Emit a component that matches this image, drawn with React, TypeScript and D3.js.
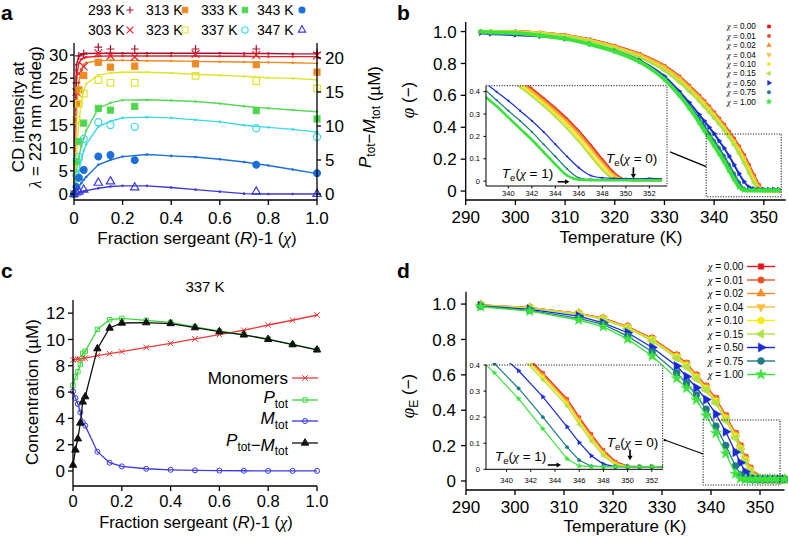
import React from 'react'
import * as d3 from 'd3'

const SANS = '"Liberation Sans", Arial, Helvetica, sans-serif'
const SERIF = '"Liberation Serif", "Times New Roman", serif'

// ---------- panel a: CD intensity (markers, left axis) and Ptot-Mtot model (lines, right axis) ----------
const CHI_FIT = [0, 0.01, 0.02, 0.03, 0.04, 0.05, 0.1, 0.15, 0.2, 0.3, 0.4, 0.5, 0.6, 0.7, 0.8, 0.9, 1.0]
const CHI_CD = [0, 0.01, 0.02, 0.04, 0.1, 0.15, 0.25, 0.5, 0.75, 1.0]
const TEMPS_A = ['293 K', '303 K', '313 K', '323 K', '333 K', '337 K', '343 K', '347 K']

const FIT_293 = [0, 19.0, 20.3, 20.5, 20.6, 20.65, 20.7, 20.7, 20.7, 20.7, 20.7, 20.7, 20.7, 20.65, 20.65, 20.6, 20.6]
const FIT_303 = [0, 17.0, 19.3, 19.8, 20.0, 20.1, 20.25, 20.3, 20.3, 20.3, 20.3, 20.3, 20.25, 20.25, 20.2, 20.2, 20.2]
const FIT_313 = [0, 12.0, 16.5, 18.3, 19.0, 19.3, 19.6, 19.65, 19.65, 19.6, 19.55, 19.5, 19.45, 19.4, 19.35, 19.3, 19.2]
const FIT_323 = [0, 6.0, 10.5, 13.5, 15.2, 16.2, 17.5, 17.8, 17.9, 17.9, 17.8, 17.6, 17.45, 17.3, 17.1, 17.0, 16.8]
const FIT_333 = [0, 3.5, 5.5, 7.0, 8.2, 9.3, 12.6, 13.4, 13.8, 13.85, 13.75, 13.6, 13.3, 12.9, 12.6, 12.35, 12.1]
const FIT_337 = [0, 1.5, 3.4, 5.0, 6.4, 7.3, 9.9, 10.7, 11.2, 11.3, 11.2, 10.9, 10.6, 10.1, 9.8, 9.5, 9.1]
const FIT_343 = [0, 0.5, 1.1, 1.6, 2.1, 2.5, 4.3, 5.0, 5.5, 5.8, 5.6, 5.45, 5.1, 4.7, 4.2, 3.6, 3.0]
const FIT_347 = [0, 0.1, 0.2, 0.3, 0.4, 0.5, 0.85, 1.1, 1.2, 1.2, 0.95, 0.65, 0.35, 0.05, 0, 0, 0]

const CD_293 = [0, 24.0, 29.8, 30.3, 31.7, 31.3, 31.3, 31.3, 31.3, 30.5]
const CD_303 = [0, 22.0, 26.0, 27.5, 30.4, 29.8, 29.6, 30.2, 30.0, 29.9]
const CD_313 = [0, 19.5, 22.5, 25.6, 28.4, 27.4, 27.6, 28.1, 27.9, 26.3]
const CD_323 = [0, 16.0, 19.5, 21.7, 24.6, 24.0, 24.0, 25.5, 24.4, 22.8]
const CD_333 = [0, 7.0, 11.3, 15.3, 18.5, 18.1, 18.9, null, 18.0, 16.2]
const CD_337 = [0, 4.0, 8.0, 11.9, 15.5, 14.9, 14.5, null, 14.2, 12.3]
const CD_343 = [0, 1.5, 3.5, 5.2, 8.1, 8.4, 7.3, null, 6.3, 4.5]
const CD_347 = [0, 0.3, 0.5, 0.9, 2.4, 2.7, 1.4, null, 0.5, 0]

// ---------- panel b: measured phi vs temperature ----------
const T_B = [293, 295, 300, 305, 310, 315, 320, 325, 330, 333, 335, 337, 338, 339, 340, 341, 342, 343, 344, 345, 346, 347, 348, 349, 350, 351, 352, 353]
const B_000 = [1.0, 1.0, 1.0, 0.992, 0.977, 0.95, 0.91, 0.86, 0.785, 0.718, 0.66, 0.598, 0.565, 0.53, 0.493, 0.455, 0.415, 0.372, 0.328, 0.28, 0.225, 0.163, 0.098, 0.038, 0.006, 0.003, 0.003, 0.002]
const B_001 = [1.0, 1.0, 1.0, 0.992, 0.976, 0.949, 0.909, 0.858, 0.783, 0.715, 0.657, 0.595, 0.562, 0.527, 0.49, 0.452, 0.411, 0.368, 0.324, 0.276, 0.221, 0.159, 0.094, 0.035, 0.006, 0.003, 0.003, 0.002]
const B_002 = [1.0, 1.0, 1.0, 0.991, 0.976, 0.948, 0.907, 0.856, 0.78, 0.712, 0.653, 0.591, 0.558, 0.523, 0.485, 0.447, 0.406, 0.363, 0.318, 0.27, 0.215, 0.152, 0.087, 0.03, 0.005, 0.003, 0.003, 0.002]
const B_004 = [1.0, 1.0, 0.999, 0.99, 0.975, 0.946, 0.904, 0.852, 0.776, 0.707, 0.648, 0.585, 0.552, 0.517, 0.479, 0.44, 0.399, 0.356, 0.31, 0.262, 0.206, 0.143, 0.079, 0.024, 0.005, 0.003, 0.003, 0.002]
const B_010 = [1.0, 1.0, 0.998, 0.99, 0.972, 0.942, 0.898, 0.842, 0.76, 0.688, 0.632, 0.57, 0.537, 0.503, 0.467, 0.43, 0.39, 0.347, 0.3, 0.248, 0.19, 0.125, 0.062, 0.015, 0.004, 0.003, 0.003, 0.002]
const B_015 = [1.0, 1.0, 0.997, 0.988, 0.97, 0.94, 0.895, 0.838, 0.755, 0.682, 0.625, 0.562, 0.528, 0.494, 0.457, 0.42, 0.38, 0.336, 0.288, 0.235, 0.176, 0.112, 0.05, 0.01, 0.004, 0.003, 0.003, 0.002]
const B_050 = [0.99, 0.985, 0.978, 0.97, 0.953, 0.922, 0.88, 0.82, 0.72, 0.625, 0.555, 0.48, 0.44, 0.4, 0.36, 0.315, 0.27, 0.22, 0.165, 0.11, 0.06, 0.025, 0.015, 0.012, 0.011, 0.01, 0.012, 0.01]
const B_075 = [1.0, 0.995, 0.988, 0.975, 0.955, 0.92, 0.876, 0.812, 0.705, 0.61, 0.535, 0.455, 0.41, 0.362, 0.315, 0.27, 0.22, 0.165, 0.11, 0.055, 0.015, 0.008, 0.008, 0.008, 0.008, 0.008, 0.008, 0.008]
const B_100 = [1.0, 0.995, 0.99, 0.975, 0.955, 0.92, 0.875, 0.81, 0.7, 0.6, 0.52, 0.43, 0.38, 0.335, 0.285, 0.235, 0.185, 0.13, 0.075, 0.025, 0.006, 0.004, 0.004, 0.004, 0.004, 0.004, 0.004, 0.004]

// ---------- panel c: model concentrations at 337 K ----------
const C_MONO = [8.45, 8.48, 8.5, 8.52, 8.55, 8.58, 8.77, 8.92, 9.07, 9.4, 9.7, 10.04, 10.37, 10.7, 11.1, 11.46, 11.86]
const C_PTOT = [6.5, 7.15, 7.55, 8.1, 8.95, 9.1, 10.77, 11.5, 11.6, 11.45, 11.3, 10.95, 10.63, 10.37, 10.02, 9.62, 9.22]
const C_MTOT = [6.05, 5.55, 5.1, 4.45, 3.7, 3.45, 1.47, 0.63, 0.35, 0.17, 0.09, 0.05, 0.03, 0.02, 0.01, 0.01, 0.01]
const C_DIFF = [0.45, 1.6, 2.45, 3.65, 5.25, 5.65, 9.3, 10.87, 11.25, 11.28, 11.21, 10.9, 10.6, 10.35, 10.01, 9.61, 9.21]

// ---------- panel d: model phi_E vs temperature ----------
const T_D = [293, 303, 313, 318, 323, 328, 333, 335, 337, 339, 341, 343, 345, 346, 347, 348, 349, 350, 351, 352, 353, 354, 355]
const D_000 = [0.995, 0.98, 0.948, 0.92, 0.873, 0.806, 0.712, 0.665, 0.6, 0.537, 0.467, 0.37, 0.27, 0.2, 0.135, 0.074, 0.03, 0.012, 0.01, 0.01, 0.01, 0.01, 0.01]
const D_001 = [0.995, 0.98, 0.947, 0.919, 0.872, 0.805, 0.71, 0.663, 0.598, 0.535, 0.464, 0.367, 0.267, 0.197, 0.132, 0.071, 0.028, 0.011, 0.01, 0.01, 0.01, 0.01, 0.01]
const D_002 = [0.995, 0.979, 0.947, 0.918, 0.871, 0.803, 0.708, 0.66, 0.595, 0.532, 0.46, 0.363, 0.263, 0.193, 0.128, 0.068, 0.026, 0.011, 0.01, 0.01, 0.01, 0.01, 0.01]
const D_004 = [0.995, 0.979, 0.946, 0.917, 0.869, 0.8, 0.704, 0.656, 0.59, 0.527, 0.455, 0.358, 0.258, 0.188, 0.123, 0.064, 0.023, 0.01, 0.01, 0.01, 0.01, 0.01, 0.01]
const D_010 = [0.994, 0.978, 0.945, 0.915, 0.866, 0.797, 0.7, 0.651, 0.585, 0.521, 0.449, 0.352, 0.251, 0.181, 0.116, 0.058, 0.02, 0.01, 0.01, 0.01, 0.01, 0.01, 0.01]
const D_015 = [0.994, 0.977, 0.943, 0.912, 0.862, 0.792, 0.694, 0.644, 0.577, 0.513, 0.44, 0.343, 0.242, 0.172, 0.108, 0.052, 0.016, 0.01, 0.01, 0.01, 0.01, 0.01, 0.01]
const D_050 = [0.99, 0.97, 0.932, 0.894, 0.838, 0.755, 0.65, 0.59, 0.527, 0.46, 0.378, 0.278, 0.163, 0.103, 0.052, 0.02, 0.01, 0.01, 0.01, 0.01, 0.01, 0.01, 0.01]
const D_075 = [0.988, 0.965, 0.919, 0.885, 0.819, 0.731, 0.612, 0.552, 0.486, 0.405, 0.31, 0.2, 0.085, 0.035, 0.012, 0.01, 0.01, 0.01, 0.01, 0.01, 0.01, 0.01, 0.01]
const D_100 = [0.985, 0.96, 0.91, 0.872, 0.802, 0.706, 0.58, 0.524, 0.458, 0.37, 0.27, 0.155, 0.04, 0.013, 0.01, 0.01, 0.01, 0.01, 0.01, 0.01, 0.01, 0.01, 0.01]

const CHI_LEGEND = ['0.00', '0.01', '0.02', '0.04', '0.10', '0.15', '0.50', '0.75', '1.00']
const CHI_COLORS = ['#e8141c', '#e4502a', '#f28a2a', '#f8be3c', '#f4ec14', '#b0e04a', '#1a2ad8', '#1e7c82', '#3ce23c']
const CHI_MARKS = ['square', 'circle', 'triangle', 'triDown', 'circle', 'triLeft', 'triRight', 'circle', 'star']
const B_SERIES = [B_000, B_001, B_002, B_004, B_010, B_015, B_050, B_075, B_100]
const D_SERIES = [D_000, D_001, D_002, D_004, D_010, D_015, D_050, D_075, D_100]

const A_FIT = [FIT_293, FIT_303, FIT_313, FIT_323, FIT_333, FIT_337, FIT_343, FIT_347]
const A_CD = [CD_293, CD_303, CD_313, CD_323, CD_333, CD_337, CD_343, CD_347]
const A_STYLE = [
  { line: '#a8122e', kind: 'plus', fill: 'none', size: 22 },
  { line: '#e8202a', kind: 'times', fill: 'none', size: 40 },
  { line: '#f08a22', kind: 'square', fill: '#f08a22', size: 36 },
  { line: '#dfe42a', kind: 'square', fill: 'none', size: 44 },
  { line: '#58d858', kind: 'square', fill: '#4cd64c', size: 36 },
  { line: '#38d8e8', kind: 'circle', fill: 'none', size: 40 },
  { line: '#1c6fd8', kind: 'circle', fill: '#1c6fd8', size: 36 },
  { line: '#3a3ad8', kind: 'triangle', fill: 'none', size: 30 },
]

const SYM: Record<string, any> = {
  plus: (d3 as any).symbolPlus ?? d3.symbolCross,
  times: (d3 as any).symbolTimes ?? d3.symbolCross,
  square: d3.symbolSquare,
  circle: d3.symbolCircle,
  triangle: d3.symbolTriangle,
  triDown: d3.symbolTriangle,
  triLeft: d3.symbolTriangle,
  triRight: d3.symbolTriangle,
  star: d3.symbolStar,
}
const ROT: Record<string, number> = { triDown: 180, triLeft: -90, triRight: 90 }

function Mark({ x, y, kind, size, color, fill, sw = 1 }: any) {
  const d = d3.symbol(SYM[kind], size)() ?? ''
  const r = ROT[kind] ?? 0
  const f = fill ?? color
  return (
    <path
      d={d}
      transform={`translate(${x},${y})${r ? ` rotate(${r})` : ''}`}
      fill={f}
      stroke={color}
      strokeWidth={sw}
    />
  )
}

const fmtDec = (d: number) => (d === 0 ? '0' : d.toFixed(1))

function XAxis({ scale, y, ticks, fmt, x0, x1, fs = 17, len = 5, pad = 23, sw = 1.3 }: any) {
  return (
    <g>
      <line x1={x0} x2={x1} y1={y} y2={y} stroke="#000" strokeWidth={sw} />
      {ticks.map((t: number) => (
        <g key={t}>
          <line x1={scale(t)} x2={scale(t)} y1={y} y2={y + len} stroke="#000" strokeWidth={sw} />
          <text x={scale(t)} y={y + pad} textAnchor="middle" fontSize={fs}>{fmt(t)}</text>
        </g>
      ))}
    </g>
  )
}

function YAxis({ scale, x, ticks, fmt, y0, y1, fs = 17, len = 5, pad = 8, side = 'left', sw = 1.3 }: any) {
  const dir = side === 'left' ? -1 : 1
  return (
    <g>
      <line x1={x} x2={x} y1={y0} y2={y1} stroke="#000" strokeWidth={sw} />
      {ticks.map((t: number) => (
        <g key={t}>
          <line x1={x} x2={x + dir * len} y1={scale(t)} y2={scale(t)} stroke="#000" strokeWidth={sw} />
          <text x={x + dir * pad} y={scale(t)} dy="0.36em" textAnchor={side === 'left' ? 'end' : 'start'} fontSize={fs}>
            {fmt(t)}
          </text>
        </g>
      ))}
    </g>
  )
}

function Sub({ main, sub, italic = true, fs, subFs }: any) {
  return (
    <>
      <tspan fontStyle={italic ? 'italic' : 'normal'}>{main}</tspan>
      <tspan fontSize={subFs ?? fs * 0.7} dy={fs * 0.25}>{sub}</tspan>
      <tspan dy={-fs * 0.25}>{''}</tspan>
    </>
  )
}

function Chi() {
  return <tspan fontFamily={SERIF} fontStyle="italic">χ</tspan>
}

function Arrow({ x1, y1, x2, y2 }: any) {
  const a = Math.atan2(y2 - y1, x2 - x1)
  const h = 4.5
  const p1 = [x2 - h * Math.cos(a) + 2.6 * Math.sin(a), y2 - h * Math.sin(a) - 2.6 * Math.cos(a)]
  const p2 = [x2 - h * Math.cos(a) - 2.6 * Math.sin(a), y2 - h * Math.sin(a) + 2.6 * Math.cos(a)]
  return (
    <g>
      <line x1={x1} y1={y1} x2={x2 - 2 * Math.cos(a)} y2={y2 - 2 * Math.sin(a)} stroke="#000" strokeWidth={1.6} />
      <path d={`M${x2},${y2}L${p1[0]},${p1[1]}L${p2[0]},${p2[1]}Z`} fill="#000" />
    </g>
  )
}

function TeLabel({ x, y, val }: any) {
  return (
    <text x={x} y={y} fontSize={13.5}>
      <tspan fontStyle="italic">T</tspan>
      <tspan fontSize={9.5} dy={3}>e</tspan>
      <tspan dy={-3}>(</tspan>
      <Chi />
      <tspan>{` = ${val})`}</tspan>
    </text>
  )
}

// ---------- panel a ----------
function PanelA() {
  const x = d3.scaleLinear([0, 1], [74, 317])
  const yL = d3.scaleLinear([-1.3, 32.6], [200, 43])
  const yR = d3.scaleLinear([-0.88, 22.2], [200, 43])
  const line = d3.line<number>().x((_, i) => x(CHI_FIT[i])).y(d => yR(d))
  const legendOrder = [[0, 2, 4, 6], [1, 3, 5, 7]]
  const colText = [88, 146, 201, 257]
  const colMark = [130, 185, 245, 302]
  const rowY = [10, 30]
  return (
    <g>
      <text x={1} y={20} fontSize={21} fontWeight="bold">a</text>
      {A_FIT.map((s, k) => (
        <g key={k}>
          <path d={line(s) ?? ''} fill="none" stroke={A_STYLE[k].line} strokeWidth={1.4} />
          {s.map((v, i) => (
            <circle key={i} cx={x(CHI_FIT[i])} cy={yR(v)} r={1.3} fill={A_STYLE[k].line} />
          ))}
        </g>
      ))}
      {A_CD.map((s, k) =>
        s.map((v, i) =>
          v === null ? null : (
            <Mark key={`${k}-${i}`} x={x(CHI_CD[i])} y={yL(v)} kind={A_STYLE[k].kind} size={A_STYLE[k].size}
              color={A_STYLE[k].line} fill={A_STYLE[k].fill} sw={1.2} />
          )
        )
      )}
      <XAxis scale={x} y={200} x0={74} x1={317} ticks={[0, 0.2, 0.4, 0.6, 0.8, 1.0]} fmt={fmtDec} pad={24} />
      <YAxis scale={yL} x={74} y0={43} y1={200} ticks={[0, 5, 10, 15, 20, 25, 30]} fmt={String} len={4} pad={6} />
      <YAxis scale={yR} x={317} y0={43} y1={200} ticks={[0, 5, 10, 15, 20]} fmt={String} len={4} pad={8} side="right" />
      <text x={197} y={244} textAnchor="middle" fontSize={17}>
        Fraction sergeant (<tspan fontStyle="italic">R</tspan>)-1 (<Chi />)
      </text>
      <text transform="translate(24,117) rotate(-90)" textAnchor="middle" fontSize={17}>CD intensity at</text>
      <text transform="translate(41,117) rotate(-90)" textAnchor="middle" fontSize={17}>
        <tspan fontFamily={SERIF} fontStyle="italic">λ</tspan> = 223 nm (mdeg)
      </text>
      <text transform="translate(371,117) rotate(-90)" textAnchor="middle" fontSize={17}>
        <Sub main="P" sub="tot" fs={17} />−<Sub main="M" sub="tot" fs={17} /> (µM)
      </text>
      {legendOrder.map((row, r) =>
        row.map((k, c) => (
          <g key={`${r}-${c}`}>
            <text x={colText[c]} y={rowY[r]} dy="0.36em" fontSize={14}>{TEMPS_A[k]}</text>
            <Mark x={colMark[c]} y={rowY[r]} kind={A_STYLE[k].kind} size={A_STYLE[k].size * 0.8}
              color={A_STYLE[k].line} fill={A_STYLE[k].fill} sw={1.1} />
          </g>
        ))
      )}
    </g>
  )
}

// ---------- panel b ----------
function PanelB() {
  const x = d3.scaleLinear([290, 354.4], [465.7, 785.7])
  const y = d3.scaleLinear([-0.056, 1.06], [200, 22])
  const xi = d3.scaleLinear([338.1, 353.5], [486, 667])
  const yi = d3.scaleLinear([-0.022, 0.427], [186, 85.7])
  const line = d3.line<number>().x((_, i) => x(T_B[i])).y(d => y(d)).curve(d3.curveMonotoneX)
  const lineI = d3.line<number>().x((_, i) => xi(T_B[i])).y(d => yi(d)).curve(d3.curveMonotoneX)
  const mainW = [2.6, 2.6, 2.6, 2.6, 2.6, 2.6, 2, 2, 3.8]
  const insetW = [1.8, 1.8, 1.8, 1.8, 1.8, 1.8, 1.2, 1.2, 2.6]
  const [ix0, ix1] = xi.range()
  const [iy1, iy0] = yi.range()
  return (
    <g>
      <text x={397} y={20} fontSize={21} fontWeight="bold">b</text>
      {B_SERIES.map((s, k) => (
        <g key={k}>
          <path d={line(s) ?? ''} fill="none" stroke={CHI_COLORS[k]} strokeWidth={mainW[k]} strokeLinecap="round" />
          {s.map((v, i) => (
            <Mark key={i} x={x(T_B[i])} y={y(v)} kind={CHI_MARKS[k]} size={9} color={CHI_COLORS[k]} sw={0.6} />
          ))}
        </g>
      ))}
      {/* zoom rectangle on the main plot */}
      <rect x={x(338.4)} y={y(0.358)} width={x(353.5) - x(338.4)} height={y(-0.036) - y(0.358)}
        fill="none" stroke="#222" strokeWidth={1.1} strokeDasharray="1.2,1.4" />
      <line x1={ix1 + 3} y1={yi(0.131)} x2={x(338.4)} y2={y(0.153)} stroke="#000" strokeWidth={1.3} />
      {/* inset */}
      <rect x={ix0} y={iy0} width={ix1 - ix0} height={iy1 - iy0} fill="#fff" />
      <clipPath id="clipBi"><rect x={ix0} y={iy0} width={ix1 - ix0} height={iy1 - iy0} /></clipPath>
      <g clipPath="url(#clipBi)">
        {B_SERIES.map((s, k) => (
          <g key={k}>
            <path d={lineI(s) ?? ''} fill="none" stroke={CHI_COLORS[k]} strokeWidth={insetW[k]} />
            {s.map((v, i) => (
              <circle key={i} cx={xi(T_B[i])} cy={yi(v)} r={1.1} fill={CHI_COLORS[k]} />
            ))}
          </g>
        ))}
      </g>
      <path d={`M${ix0},${iy0}H${ix1}V${iy1}`} fill="none" stroke="#222" strokeWidth={1} strokeDasharray="1.2,1.4" />
      <XAxis scale={xi} y={iy1} x0={ix0} x1={ix1} ticks={[340, 342, 344, 346, 348, 350, 352]} fmt={String}
        fs={7.5} len={2.5} pad={9.5} sw={1} />
      <YAxis scale={yi} x={ix0} y0={iy0} y1={iy1} ticks={[0, 0.1, 0.2, 0.3, 0.4]} fmt={(d: number) => (d === 0 ? '0' : d.toFixed(1))}
        fs={7.5} len={2.5} pad={6} sw={1} />
      <TeLabel x={xi(339.45)} y={yi(0.014)} val="1" />
      <Arrow x1={xi(344.2)} y1={yi(-0.003)} x2={xi(345.2)} y2={yi(-0.003)} />
      <TeLabel x={xi(348.3)} y={yi(0.08)} val="0" />
      <Arrow x1={xi(350.64)} y1={yi(0.062)} x2={xi(350.64)} y2={yi(0.012)} />
      {/* main axes */}
      <XAxis scale={x} y={200} x0={465.7} x1={785.7} ticks={[290, 300, 310, 320, 330, 340, 350]} fmt={String} pad={23} />
      <YAxis scale={y} x={465.7} y0={22} y1={200} ticks={[0, 0.2, 0.4, 0.6, 0.8, 1.0]} fmt={fmtDec} pad={9} />
      <text x={621} y={243} textAnchor="middle" fontSize={17}>Temperature (K)</text>
      <text transform="translate(414,100) rotate(-90)" textAnchor="middle" fontSize={17}>
        <tspan fontFamily={SERIF} fontStyle="italic" fontSize={19}>φ</tspan> (−)
      </text>
      {CHI_LEGEND.map((lab, k) => (
        <g key={k}>
          <text x={727} y={26.5 + k * 9.4} dy="0.36em" fontSize={8.2}>
            <Chi /> = {lab}
          </text>
          <Mark x={769} y={26.5 + k * 9.4} kind={CHI_MARKS[k]} size={9} color={CHI_COLORS[k]} sw={0.6} />
        </g>
      ))}
    </g>
  )
}

// ---------- panel c ----------
function PanelC() {
  const x = d3.scaleLinear([0, 1], [73, 317])
  const y = d3.scaleLinear([-1.14, 13.0], [486, 300])
  const line = d3.line<number>().x((_, i) => x(CHI_FIT[i])).y(d => y(d))
  const series = [
    { v: C_MONO, color: '#e83a3a', kind: 'times', fill: 'none', size: 22 },
    { v: C_PTOT, color: '#3cd83c', kind: 'square', fill: 'none', size: 20 },
    { v: C_MTOT, color: '#3a3ae0', kind: 'circle', fill: 'none', size: 20 },
    { v: C_DIFF, color: '#111111', kind: 'triangle', fill: '#111111', size: 24 },
  ]
  const legY = [378, 400, 421, 443]
  return (
    <g>
      <text x={1} y={278} fontSize={21} fontWeight="bold">c</text>
      <text x={205} y={291.5} textAnchor="middle" fontSize={15}>337 K</text>
      {series.map((s, k) => (
        <g key={k}>
          <path d={line(s.v) ?? ''} fill="none" stroke={s.color} strokeWidth={1.3} />
          {s.v.map((v, i) => (
            <Mark key={i} x={x(CHI_FIT[i])} y={y(v)} kind={s.kind} size={s.size} color={s.color} fill={s.fill} sw={1} />
          ))}
        </g>
      ))}
      <XAxis scale={x} y={486} x0={73} x1={317} ticks={[0, 0.2, 0.4, 0.6, 0.8, 1.0]} fmt={fmtDec} pad={20.5} fs={16.5} />
      <YAxis scale={y} x={73} y0={300} y1={486} ticks={[0, 2, 4, 6, 8, 10, 12]} fmt={String} pad={8} />
      <text x={196} y={528} textAnchor="middle" fontSize={16.5}>
        Fraction sergeant (<tspan fontStyle="italic">R</tspan>)-1 (<Chi />)
      </text>
      <text transform="translate(38,392) rotate(-90)" textAnchor="middle" fontSize={17}>Concentration (µM)</text>
      {series.map((s, k) => (
        <g key={k}>
          <line x1={292} x2={318} y1={legY[k]} y2={legY[k]} stroke={s.color} strokeWidth={1.3} />
          <Mark x={305} y={legY[k]} kind={s.kind} size={s.size} color={s.color} fill={s.fill} sw={1} />
        </g>
      ))}
      <text x={288} y={legY[0]} dy="0.36em" textAnchor="end" fontSize={17}>Monomers</text>
      <text x={288} y={legY[1]} dy="0.2em" textAnchor="end" fontSize={17}><Sub main="P" sub="tot" fs={17} /></text>
      <text x={288} y={legY[2]} dy="0.2em" textAnchor="end" fontSize={17}><Sub main="M" sub="tot" fs={17} /></text>
      <text x={288} y={legY[3]} dy="0.2em" textAnchor="end" fontSize={17}>
        <Sub main="P" sub="tot" fs={17} />−<Sub main="M" sub="tot" fs={17} />
      </text>
    </g>
  )
}

// ---------- panel d ----------
function PanelD() {
  const x = d3.scaleLinear([290, 355], [466, 784.5])
  const y = d3.scaleLinear([-0.051, 1.07], [490, 291.7])
  const xi = d3.scaleLinear([338.3, 352.9], [486, 662.7])
  const yi = d3.scaleLinear([0, 0.4], [469.3, 365])
  const line = d3.line<number>().x((_, i) => x(T_D[i])).y(d => y(d))
  const lineI = d3.line<number>().x((_, i) => xi(T_D[i])).y(d => yi(d))
  const sizes = [30, 34, 34, 34, 40, 34, 36, 38, 36]
  const [ix0, ix1] = xi.range()
  const [iy1, iy0] = yi.range()
  return (
    <g>
      <text x={397} y={278} fontSize={21} fontWeight="bold">d</text>
      {D_SERIES.map((s, k) => (
        <g key={k}>
          <path d={line(s) ?? ''} fill="none" stroke={CHI_COLORS[k]} strokeWidth={1.3} />
          {s.map((v, i) => (
            <Mark key={i} x={x(T_D[i])} y={y(v)} kind={CHI_MARKS[k]} size={sizes[k]} color={CHI_COLORS[k]} sw={0.5} />
          ))}
        </g>
      ))}
      <rect x={x(338.4)} y={y(0.345)} width={x(354.1) - x(338.4)} height={y(-0.023) - y(0.345)}
        fill="none" stroke="#222" strokeWidth={1.1} strokeDasharray="1.2,1.4" />
      <line x1={ix1 + 2} y1={yi(0.112)} x2={x(338.4)} y2={y(0.152)} stroke="#000" strokeWidth={1.1} />
      <circle cx={ix1 + 2} cy={yi(0.112)} r={1.2} fill="#000" />
      {/* inset */}
      <rect x={ix0} y={iy0} width={ix1 - ix0} height={iy1 - iy0} fill="#fff" />
      <clipPath id="clipDi"><rect x={ix0} y={iy0 - 2} width={ix1 - ix0} height={iy1 - iy0 + 2} /></clipPath>
      <g clipPath="url(#clipDi)">
        {D_SERIES.map((s, k) => (
          <g key={k}>
            <path d={lineI(s) ?? ''} fill="none" stroke={CHI_COLORS[k]} strokeWidth={1.2} />
            {s.map((v, i) => (
              <Mark key={i} x={xi(T_D[i])} y={yi(v)} kind={CHI_MARKS[k]} size={9} color={CHI_COLORS[k]} sw={0.4} />
            ))}
          </g>
        ))}
      </g>
      <path d={`M${ix0},${iy0}H${ix1}V${iy1}`} fill="none" stroke="#222" strokeWidth={1} strokeDasharray="1.2,1.4" />
      <XAxis scale={xi} y={iy1} x0={ix0} x1={ix1} ticks={[340, 342, 344, 346, 348, 350, 352]} fmt={String}
        fs={7.5} len={2.5} pad={14} sw={1} />
      <YAxis scale={yi} x={ix0} y0={iy0} y1={iy1} ticks={[0, 0.1, 0.2, 0.3, 0.4]} fmt={(d: number) => (d === 0 ? '0' : d.toFixed(1))}
        fs={7.5} len={2.5} pad={6} sw={1} />
      <TeLabel x={xi(339.04)} y={yi(0.032)} val="1" />
      <Arrow x1={xi(343.4)} y1={yi(0.0165)} x2={xi(344.5)} y2={yi(0.0165)} />
      <TeLabel x={xi(348.28)} y={yi(0.087)} val="0" />
      <Arrow x1={xi(350.2)} y1={yi(0.075)} x2={xi(350.2)} y2={yi(0.035)} />
      {/* main axes */}
      <XAxis scale={x} y={490} x0={466} x1={784.5} ticks={[290, 300, 310, 320, 330, 340, 350]} fmt={String} pad={22.7} />
      <YAxis scale={y} x={466} y0={291.7} y1={490} ticks={[0, 0.2, 0.4, 0.6, 0.8, 1.0]} fmt={fmtDec} pad={10} />
      <text x={625} y={532} textAnchor="middle" fontSize={17}>Temperature (K)</text>
      <text transform="translate(414,396) rotate(-90)" textAnchor="middle" fontSize={17}>
        <tspan fontFamily={SERIF} fontStyle="italic" fontSize={19}>φ</tspan>
        <tspan fontSize={12} dy={4}>E</tspan>
        <tspan dy={-4}> (−)</tspan>
      </text>
      {CHI_LEGEND.map((lab, k) => (
        <g key={k}>
          <text x={708} y={266.5 + k * 13.5} dy="0.36em" fontSize={10}>
            <Chi /> = {lab}
          </text>
          <line x1={747} x2={775} y1={266.5 + k * 13.5} y2={266.5 + k * 13.5} stroke={CHI_COLORS[k]} strokeWidth={1.4} />
          <Mark x={761} y={266.5 + k * 13.5} kind={CHI_MARKS[k]} size={sizes[k]} color={CHI_COLORS[k]} sw={0.5} />
        </g>
      ))}
    </g>
  )
}

export default function App() {
  return (
    <div style={{ position: 'fixed', left: 0, top: 0, width: 788, height: 538, background: '#fff' }}>
      <svg width={788} height={538} fontFamily={SANS} style={{ display: 'block' }}>
        <rect width={788} height={538} fill="#fff" />
        <PanelA />
        <PanelB />
        <PanelC />
        <PanelD />
      </svg>
    </div>
  )
}
